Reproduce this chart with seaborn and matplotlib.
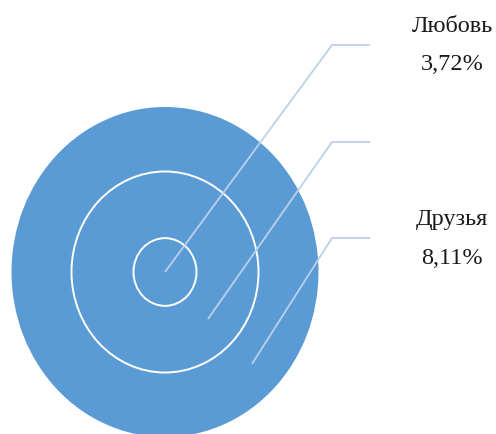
import matplotlib
matplotlib.use("Agg")
import matplotlib.pyplot as plt
import seaborn as sns
from matplotlib.patches import Ellipse

# nested bubbles, drawn largest first
categories = ["Любовь", "", "Друзья"]
percents = ["3,72%", "", "8,11%"]
radii = [31.5, 93.5, 153.5]          # inner -> outer
center = (165, 272)
y_stretch = 1.075

# leader lines: start inside each bubble, elbow, end
starts_x = [165, 208, 252]
starts_y = [272, 319, 364]
elbow_x = 332
elbow_y = [45, 142, 238]
end_x = 370

sns.set_theme(style="white")
plt.rcParams["font.family"] = ["Liberation Serif", "DejaVu Serif"]

fig = plt.figure(figsize=(4.96, 4.34), dpi=100)
ax = fig.add_axes([0, 0, 1, 1])
ax.set_xlim(0, 496)
ax.set_ylim(434, 0)
ax.axis("off")

blue = "#5b9bd5"
for i, r in enumerate(sorted(radii, reverse=True)):
    edge = "none" if i == 0 else "white"
    ax.add_patch(Ellipse(center, 2 * r, 2 * r * y_stretch, facecolor=blue,
                         edgecolor=edge, linewidth=1.4))

line_col = "#bcd0ea"
for sx, sy, ey in zip(starts_x, starts_y, elbow_y):
    ax.plot([sx, elbow_x, end_x], [sy, ey, ey], color=line_col, lw=1.3,
            solid_capstyle="butt")

for cat, pct, ey in zip(categories, percents, elbow_y):
    if cat:
        ax.text(452, ey - 18, cat, ha="center", va="center", fontsize=17.5,
                color="#1a1a1a")
        ax.text(452, ey + 20, pct, ha="center", va="center", fontsize=17.5,
                color="#1a1a1a")

fig.savefig("out.png", dpi=100)
